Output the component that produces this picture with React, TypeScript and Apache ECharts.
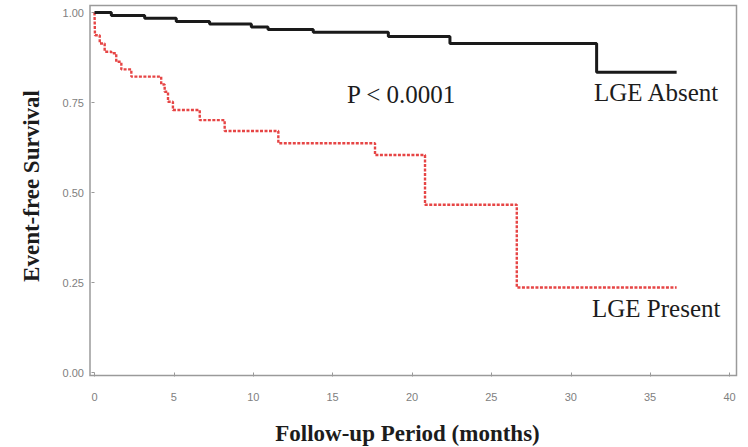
import React, { useEffect, useRef } from "react";
import * as echarts from "echarts";

const xTicks = [0, 5, 10, 15, 20, 25, 30, 35, 40];
const yTicks = [0, 0.25, 0.5, 0.75, 1.0];

// LGE Absent: [months, survival]
const absentTimes = [0, 1.06, 3.16, 5.15, 7.25, 9.88, 10.93, 13.78, 18.51, 22.39, 31.63, 36.67];
const absentValues = [1.0, 0.992, 0.984, 0.975, 0.968, 0.96, 0.953, 0.945, 0.933, 0.914, 0.834, 0.834];

// LGE Present: [months, survival]
const presentTimes = [0, 0.03, 0.33, 0.64, 1.06, 1.37, 1.69, 2.32, 4.2, 4.42, 4.63, 4.94, 6.63, 8.2, 11.58, 17.67, 20.82, 26.6, 36.67];
const presentValues = [1.0, 0.937, 0.914, 0.891, 0.887, 0.863, 0.842, 0.822, 0.8, 0.78, 0.752, 0.729, 0.701, 0.671, 0.637, 0.604, 0.466, 0.236, 0.236];

const SERIF = '"Liberation Serif", "Times New Roman", "DejaVu Serif", serif';
const SANS = '"Liberation Sans", Arial, sans-serif';

export default function App() {
  const ref = useRef<HTMLDivElement>(null);
  useEffect(() => {
    if (!ref.current) return;
    const chart = echarts.init(ref.current, null, { renderer: "svg" });
    const absent = absentTimes.map((t, i) => [t, absentValues[i]]);
    const present = presentTimes.map((t, i) => [t, presentValues[i]]);
    chart.setOption({
      animation: false,
      backgroundColor: "#ffffff",
      grid: { left: 94.5, right: 18.5, top: 12.5, bottom: 74.5 },
      xAxis: {
        type: "value",
        min: xTicks[0],
        max: xTicks[xTicks.length - 1],
        interval: 5,
        offset: 3,
        axisLine: { show: false },
        axisTick: { show: true, length: 4, lineStyle: { color: "#999" } },
        splitLine: { show: false },
        axisLabel: { color: "#808080", fontSize: 11, fontFamily: SANS, margin: 16 },
      },
      yAxis: {
        type: "value",
        min: yTicks[0],
        max: yTicks[yTicks.length - 1],
        interval: 0.25,
        offset: 4.5,
        axisLine: { show: false },
        axisTick: { show: true, length: 3, lineStyle: { color: "#999" } },
        splitLine: { show: false },
        axisLabel: {
          color: "#808080",
          fontSize: 11,
          fontFamily: SANS,
          margin: 6,
          formatter: (v: number) => v.toFixed(2),
        },
      },
      series: [
        {
          name: "LGE Absent",
          type: "line",
          step: "end",
          data: absent,
          symbol: "none",
          lineStyle: { color: "#1a1a1a", width: 3 },
          z: 3,
        },
        {
          name: "LGE Present",
          type: "line",
          step: "end",
          data: present,
          symbol: "none",
          lineStyle: { color: "#e64545", width: 2.4, type: [3, 1.5] },
          z: 2,
        },
      ],
      graphic: [
        {
          type: "rect",
          shape: { x: 90, y: 5.5, width: 646.5, height: 370 },
          style: { fill: "none", stroke: "#9a9a9a", lineWidth: 1.5 },
          silent: true,
          z: 1,
        },
        {
          type: "text",
          x: 347,
          y: 94,
          style: { text: "P < 0.0001", font: `25px ${SERIF}`, fill: "#1c1c1c", textVerticalAlign: "middle" },
        },
        {
          type: "text",
          x: 594,
          y: 92,
          style: { text: "LGE Absent", font: `25px ${SERIF}`, fill: "#1c1c1c", textVerticalAlign: "middle" },
        },
        {
          type: "text",
          x: 592,
          y: 308,
          style: { text: "LGE Present", font: `25px ${SERIF}`, fill: "#1c1c1c", textVerticalAlign: "middle" },
        },
        {
          type: "text",
          x: 407.5,
          y: 433,
          style: {
            text: "Follow-up Period (months)",
            font: `bold 23px ${SERIF}`,
            fill: "#1c1c1c",
            textAlign: "center",
            textVerticalAlign: "middle",
          },
        },
        {
          type: "text",
          x: 31,
          y: 186,
          rotation: Math.PI / 2,
          style: {
            text: "Event-free Survival",
            font: `bold 23px ${SERIF}`,
            fill: "#1c1c1c",
            textAlign: "center",
            textVerticalAlign: "middle",
          },
        },
      ],
    });
    return () => chart.dispose();
  }, []);
  return (
    <div
      ref={ref}
      style={{ position: "fixed", left: 0, top: 0, width: 748, height: 447, background: "#fff" }}
    />
  );
}
